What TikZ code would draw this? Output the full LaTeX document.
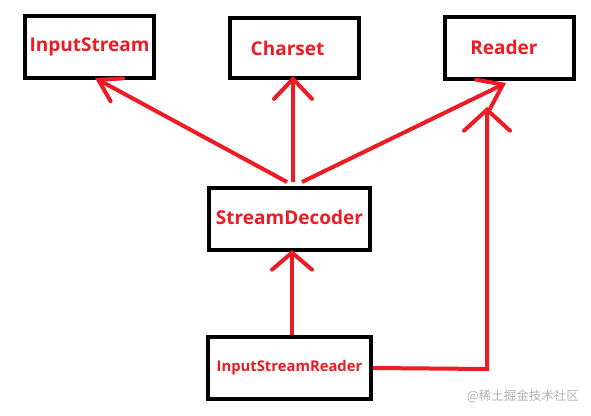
\documentclass[tikz,border=0pt]{standalone}
\usepackage{fontspec}
\setmainfont{Open Sans}
\newfontfamily\cjk{Noto Sans CJK SC}
\usetikzlibrary{arrows.meta}
\definecolor{pred}{HTML}{ED1C24}
\definecolor{wm}{HTML}{B4B4B4}
\tikzset{
  box/.style={draw=black, line width=4pt, inner sep=0pt, minimum height=62pt,
    text=pred, font=\bfseries\fontsize{19}{19}\selectfont},
  arr/.style={draw=pred, line width=4pt,
    -{Straight Barb[length=20pt,width=38pt,line cap=round]}},
}
\begin{document}
\begin{tikzpicture}[x=1pt,y=-1pt]
\useasboundingbox[fill=white] (0,0) rectangle (591,415);
\node[box, minimum width=129pt] (is) at (89.5,47) {\raisebox{1pt}{InputStream}};
\node[box, minimum width=129pt, minimum height=60pt] (cs) at (294.5,48) {\raisebox{-2pt}{Charset\kern14pt}};
\node[box, minimum width=129pt] (rd) at (509.5,48) {\raisebox{2pt}{Reader\kern11pt}};
\node[box, minimum width=161pt] (sd) at (289.5,219) {\raisebox{4pt}{StreamDecoder}};
\node[box, minimum width=163pt, font=\bfseries\fontsize{14.8}{14.8}\selectfont] (isr) at (289.5,368) {\raisebox{-1pt}{InputStreamReader}};
\coordinate (sa) at (287,182);
\coordinate (sb) at (293,182);
\coordinate (sc) at (302,182);
\coordinate (ta) at (95,78);
\coordinate (tb) at (293,76);
\coordinate (tc) at (506,83);
\coordinate (te) at (487,107);
\coordinate (ce) at (487,369);
\draw[draw=pred, line width=4pt, -{Straight Barb[length=21pt,width=26pt,line cap=round]}] (sa) -- (ta);
\draw[arr] (sb) -- (tb);
\draw[draw=pred, line width=4pt, -{Straight Barb[length=22pt,width=32pt,line cap=round]}] (sc) -- (tc);
\draw[arr, -{Straight Barb[length=17pt,width=40pt,line cap=round]}] (isr.north -| 292,0) -- (292,250);
\draw[arr, -{Straight Barb[length=21pt,width=46pt,line cap=round]}] (isr.east) -- (ce) -- (te);
\node[text=wm, font=\cjk\fontsize{12.5}{12.5}\selectfont, anchor=east, inner sep=0pt] (wmk) at (579,396) {@稀土掘金技术社区};
\end{tikzpicture}
\end{document}
